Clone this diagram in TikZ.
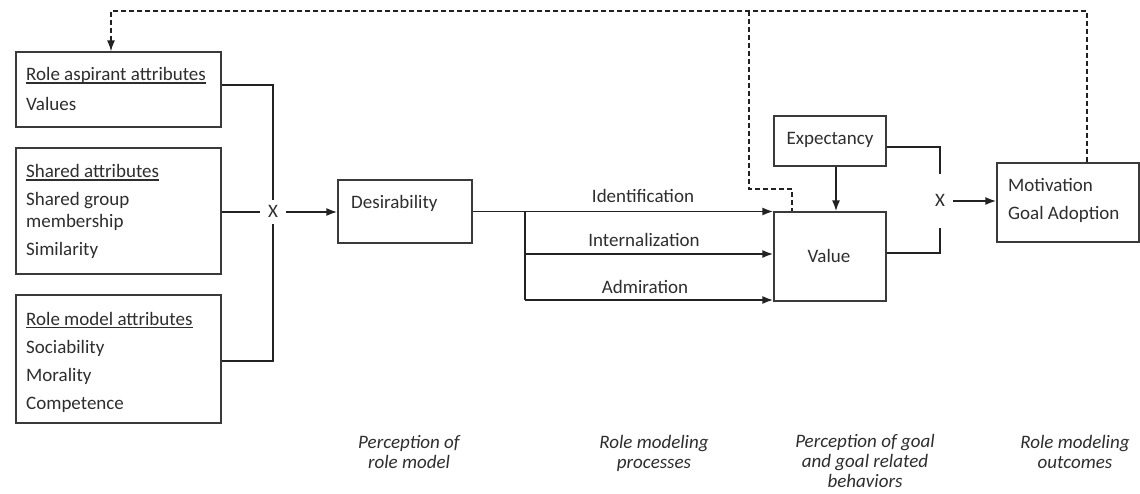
\documentclass[tikz,border=0pt]{standalone}
\usepackage{fontspec}
\setmainfont{Carlito}
\usetikzlibrary{arrows.meta,calc}
\definecolor{txtc}{HTML}{2E2E2E}
\definecolor{linec}{HTML}{222222}
\definecolor{boxc}{HTML}{3A3A3A}
\newcommand{\myul}[1]{{\setbox0\hbox{#1}\rlap{\rule[-2.6pt]{\wd0}{1.1pt}}\box0}}
\begin{document}
\begin{tikzpicture}[x=1pt,y=-1pt,
  box/.style={draw=boxc, line width=1.2pt, inner sep=0pt},
  txt/.style={anchor=base west, inner sep=0pt, text=txtc, font=\fontsize{19}{22}\selectfont},
  ctxt/.style={anchor=base, inner sep=0pt, text=txtc, font=\fontsize{19}{22}\selectfont},
  itl/.style={anchor=base, inner sep=0pt, text=txtc, align=center, font=\fontsize{19}{20}\selectfont\itshape},
  conn/.style={draw=linec, line width=1.8pt},
  arr/.style={conn, -{Latex[length=11pt,width=8pt]}},
  dsh/.style={draw=linec, line width=1.4pt, dash pattern=on 5pt off 3pt},
  xnode/.style={fill=white, inner xsep=8pt, inner ysep=6pt, text height=12pt, text depth=0pt, text=txtc, font=\fontsize{19}{22}\selectfont}
]
\fill[white] (0,0) rectangle (1140,494);
\useasboundingbox (0,0) rectangle (1140,494);

% left boxes
\node[box, minimum width=205pt, minimum height=75pt] (b1) at (118.5,89.5) {};
\node[box, minimum width=205pt, minimum height=126pt] (b2) at (118.5,211) {};
\node[box, minimum width=205pt, minimum height=128pt] (b3) at (118.5,359) {};

\node[txt] (b1h) at (26,81) {\myul{Role aspirant attributes}};
\node[txt] (b1a) at (26,111) {Values};
\node[txt] (b2h) at (26,178) {\myul{Shared attributes}};
\node[txt] (b2a) at (26,206) {Shared group};
\node[txt] (b2b) at (26,228) {membership};
\node[txt] (b2c) at (26,256) {Similarity};
\node[txt] (b3h) at (26,325) {\myul{Role model attributes}};
\node[txt] (b3a) at (26,353) {Sociability};
\node[txt] (b3b) at (26,381) {Morality};
\node[txt] (b3c) at (26,409) {Competence};

% middle
\node[box, minimum width=134pt, minimum height=63pt] (des) at (405,211.5) {};
\node[txt] (dest) at (351,209) {Desirability};

\node[box, minimum width=112pt, minimum height=50pt] (exp) at (830,141) {};
\node[ctxt] (expt) at (830,145) {Expectancy};
\node[box, minimum width=112pt, minimum height=89pt] (val) at (830,256.5) {};
\node[ctxt] (valt) at (829,263) {Value};

\node[box, minimum width=142pt, minimum height=79pt] (mot) at (1068,202.5) {};
\node[txt] (mota) at (1008,192) {Motivation};
\node[txt] (motb) at (1008,220) {Goal Adoption};

% X nodes
\node[xnode] (x1) at (273,212) {X};
\node[xnode] (x2) at (940,201) {X};

% connectors into x1
\draw[conn] (b1.east |- {(0,85)}) -| (x1.north);
\draw[conn] (b3.east |- {(0,361)}) -| (x1.south);
\draw[conn] (b2.east |- x1) -- (x1.west);
\draw[arr] (x1.east) -- (des.west |- x1);

% role modeling processes
\coordinate (s1) at (525,211.5);
\coordinate (s2) at (525,254);
\coordinate (s3) at (525,300);
\draw[conn] (des.east) -- (s1);
\draw[conn] (s1) -- (s3);
\draw[arr] (s1) -- (s1 -| val.west);
\draw[arr] (s2) -- (s2 -| val.west);
\draw[arr] (s3) -- (s3 -| val.west);
\node[ctxt] (l1) at (643,203) {Identification};
\node[ctxt] (l2) at (644,247) {Internalization};
\node[ctxt] (l3) at (645,294) {Admiration};

% expectancy -> value
\draw[arr] ([xshift=6pt]exp.south) -- ([xshift=6pt]val.north);

% into x2
\coordinate (x2a) at (940,174);
\coordinate (x2b) at (940,228);
\draw[conn] (exp.east |- {(0,147)}) -| (x2a);
\draw[conn] (val.east |- {(0,253)}) -| (x2b);
\draw[arr] (x2.east) -- (mot.west |- x2);

% feedback dashed
\coordinate (fR) at (1087,11);
\coordinate (fL) at (111,11);
\coordinate (fM) at (749,11);
\coordinate (fK) at (792,189);
\draw[dsh, -{Latex[length=11pt,width=8pt]}] (mot.north -| fR) -- (fR) -- (fL) -- (b1.north -| fL);
\draw[dsh] (fM) |- (fK) -- (fK |- val.north);

% bottom labels (base anchor = last line baseline)
\node[itl] (c1) at (409,468) {Perception of\\role model};
\node[itl] (c2) at (654,468) {Role modeling\\processes};
\node[itl] (c3) at (865,487) {Perception of goal\\and goal related\\behaviors};
\node[itl] (c4) at (1075,468) {Role modeling\\outcomes};
\end{tikzpicture}
\end{document}
